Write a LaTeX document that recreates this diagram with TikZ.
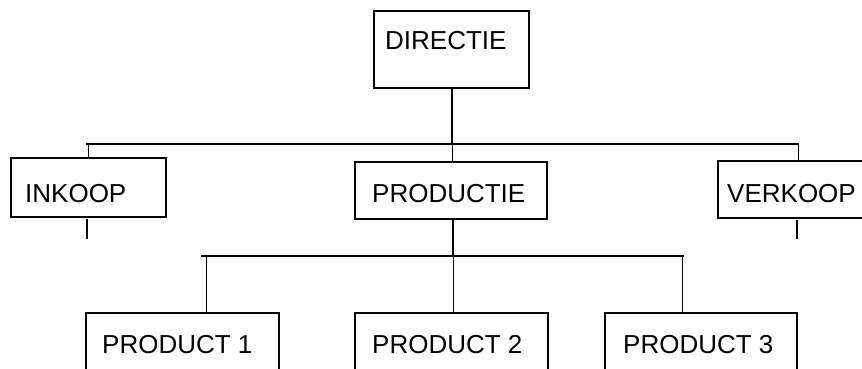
\documentclass[tikz,border=0pt]{standalone}
\usepackage{fontspec}
\setmainfont{Liberation Sans}
\begin{document}
\begin{tikzpicture}[x=1pt,y=-1pt,
  box/.style={draw,line width=1.3pt,anchor=north west,inner sep=0pt,outer sep=0pt},
  lbl/.style={anchor=base west,inner sep=0pt,font=\fontsize{26}{30}\selectfont},
  bus/.style={line width=2pt},
  thin/.style={line width=0.9pt},
  stub/.style={line width=1.6pt}]
\useasboundingbox (0,0) rectangle (862,369);
\clip (0,0) rectangle (862,369);
% boxes
\node[box,minimum width=155pt,minimum height=77pt] (dir) at (374,11) {};
\node[lbl] (dirt) at (385,50) {DIRECTIE};
\node[box,minimum width=155pt,minimum height=59pt] (ink) at (11,158) {};
\node[lbl] (inkt) at (25,202) {INKOOP};
\node[box,minimum width=192pt,minimum height=57pt] (pro) at (355,162) {};
\node[lbl] (prot) at (372,202) {PRODUCTIE};
\node[box,minimum width=170pt,minimum height=57pt] (ver) at (718,161) {};
\node[lbl] (vert) at (727,202) {VERKOOP};
\node[box,minimum width=193pt,minimum height=70pt] (p1) at (86,313) {};
\node[lbl] (p1t) at (102,353) {PRODUCT 1};
\node[box,minimum width=193pt,minimum height=70pt] (p2) at (355,313) {};
\node[lbl] (p2t) at (372,353) {PRODUCT 2};
\node[box,minimum width=192pt,minimum height=70pt] (p3) at (605,313) {};
\node[lbl] (p3t) at (623,353) {PRODUCT 3};
% bus coordinates
\coordinate (b1l) at (86,144);
\coordinate (b1r) at (799,144);
\coordinate (b1m) at (452,144);
\coordinate (b2l) at (201,256);
\coordinate (b2r) at (684,256);
\coordinate (b2m) at (453,256);
\coordinate (inkstub) at (87,239);
\coordinate (verstub) at (797,239);
% top level
\draw[bus] (b1l) -- (b1r);
\draw[line width=1.1pt] (dir.south -| b1m) -- (b1m);
\draw[thin] (b1m) -- (pro.north -| b1m);
\draw[thin] (b1l -| 88,0) -- (ink.north -| 88,0);
\draw[thin] (b1r -| 798,0) -- (ver.north -| 798,0);
\draw[stub] (ink.south -| inkstub) ++(0,2) -- (inkstub);
\draw[stub] (ver.south -| verstub) ++(0,2) -- (verstub);
% second level
\draw[bus] (b2l) -- (b2r);
\draw[stub] (pro.south -| b2m) -- (b2m);
\draw[thin] (b2m) -- (p2.north -| b2m);
\draw[thin] (b2l -| 206,0) -- (p1.north -| 206,0);
\draw[thin] (b2r -| 682,0) -- (p3.north -| 682,0);
\end{tikzpicture}
\end{document}
